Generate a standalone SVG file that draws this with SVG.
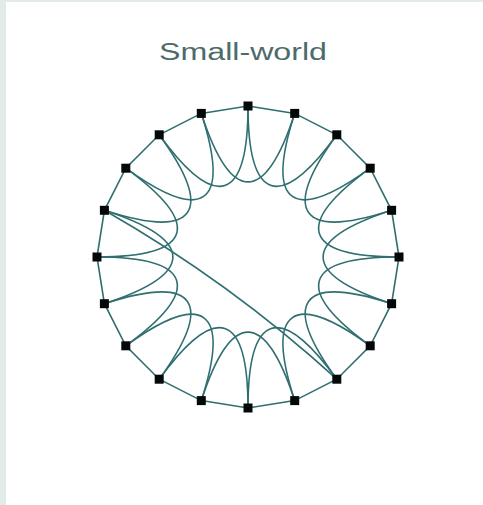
<svg xmlns="http://www.w3.org/2000/svg" width="483" height="505" viewBox="0 0 483 505">
<style>
.e{fill:none;stroke:#2f6f70;stroke-width:1.6}
.n{fill:#050808}
.t{font-family:"Liberation Sans",Arial,sans-serif;font-size:23px;fill:#4d6b6b}
</style>
<rect x="0" y="0" width="483" height="505" fill="#ffffff"/>
<rect x="0" y="0" width="483" height="2" fill="#e3ebe8"/>
<rect x="0" y="0" width="6" height="505" fill="#e3ebe8"/>
<text class="t" x="243" y="60" text-anchor="middle" textLength="168" lengthAdjust="spacingAndGlyphs">Small-world</text>
<g id="edges">
<path class="e" d="M248,106 L294.7,113.4 L336.8,134.8 L370.2,168.2 L391.6,210.3 L399,257 L391.6,303.7 L370.2,345.8 L336.8,379.2 L294.7,400.6 L248,408 L201.3,400.6 L159.2,379.2 L125.8,345.8 L104.4,303.7 L97,257 L104.4,210.3 L125.8,168.2 L159.2,134.8 L201.3,113.4 Z"/>
<path class="e" d="M201.3,113.4 C231,204.7 265,204.7 294.7,113.4"/>
<path class="e" d="M248,106 C248,202 280.3,212.5 336.8,134.8"/>
<path class="e" d="M294.7,113.4 C265,204.7 292.5,224.7 370.2,168.2"/>
<path class="e" d="M336.8,134.8 C280.3,212.5 300.3,240 391.6,210.3"/>
<path class="e" d="M370.2,168.2 C292.5,224.7 303,257 399,257"/>
<path class="e" d="M391.6,210.3 C300.3,240 300.3,274 391.6,303.7"/>
<path class="e" d="M399,257 C303,257 292.5,289.3 370.2,345.8"/>
<path class="e" d="M391.6,303.7 C300.3,274 280.3,301.5 336.8,379.2"/>
<path class="e" d="M370.2,345.8 C292.5,289.3 265,309.3 294.7,400.6"/>
<path class="e" d="M336.8,379.2 C280.3,301.5 248,312 248,408"/>
<path class="e" d="M294.7,400.6 C265,309.3 231,309.3 201.3,400.6"/>
<path class="e" d="M248,408 C248,312 215.7,301.5 159.2,379.2"/>
<path class="e" d="M201.3,400.6 C231,309.3 203.5,289.3 125.8,345.8"/>
<path class="e" d="M159.2,379.2 C215.7,301.5 195.7,274 104.4,303.7"/>
<path class="e" d="M125.8,345.8 C203.5,289.3 193,257 97,257"/>
<path class="e" d="M104.4,303.7 C195.7,274 195.7,240 104.4,210.3"/>
<path class="e" d="M97,257 C193,257 203.5,224.7 125.8,168.2"/>
<path class="e" d="M104.4,210.3 C195.7,240 215.7,212.5 159.2,134.8"/>
<path class="e" d="M125.8,168.2 C203.5,224.7 231,204.7 201.3,113.4"/>
<path class="e" d="M159.2,134.8 C215.7,212.5 248,202 248,106"/>
<path class="e" d="M104.4,210.3 Q230,282 336.8,379.2"/>
</g>
<g id="nodes">
<rect id="n0" class="n" x="243.5" y="101.5" width="9" height="9"/>
<rect id="n1" class="n" x="290.2" y="108.9" width="9" height="9"/>
<rect id="n2" class="n" x="332.3" y="130.3" width="9" height="9"/>
<rect id="n3" class="n" x="365.7" y="163.7" width="9" height="9"/>
<rect id="n4" class="n" x="387.1" y="205.8" width="9" height="9"/>
<rect id="n5" class="n" x="394.5" y="252.5" width="9" height="9"/>
<rect id="n6" class="n" x="387.1" y="299.2" width="9" height="9"/>
<rect id="n7" class="n" x="365.7" y="341.3" width="9" height="9"/>
<rect id="n8" class="n" x="332.3" y="374.7" width="9" height="9"/>
<rect id="n9" class="n" x="290.2" y="396.1" width="9" height="9"/>
<rect id="n10" class="n" x="243.5" y="403.5" width="9" height="9"/>
<rect id="n11" class="n" x="196.8" y="396.1" width="9" height="9"/>
<rect id="n12" class="n" x="154.7" y="374.7" width="9" height="9"/>
<rect id="n13" class="n" x="121.3" y="341.3" width="9" height="9"/>
<rect id="n14" class="n" x="99.9" y="299.2" width="9" height="9"/>
<rect id="n15" class="n" x="92.5" y="252.5" width="9" height="9"/>
<rect id="n16" class="n" x="99.9" y="205.8" width="9" height="9"/>
<rect id="n17" class="n" x="121.3" y="163.7" width="9" height="9"/>
<rect id="n18" class="n" x="154.7" y="130.3" width="9" height="9"/>
<rect id="n19" class="n" x="196.8" y="108.9" width="9" height="9"/>
</g>
</svg>
